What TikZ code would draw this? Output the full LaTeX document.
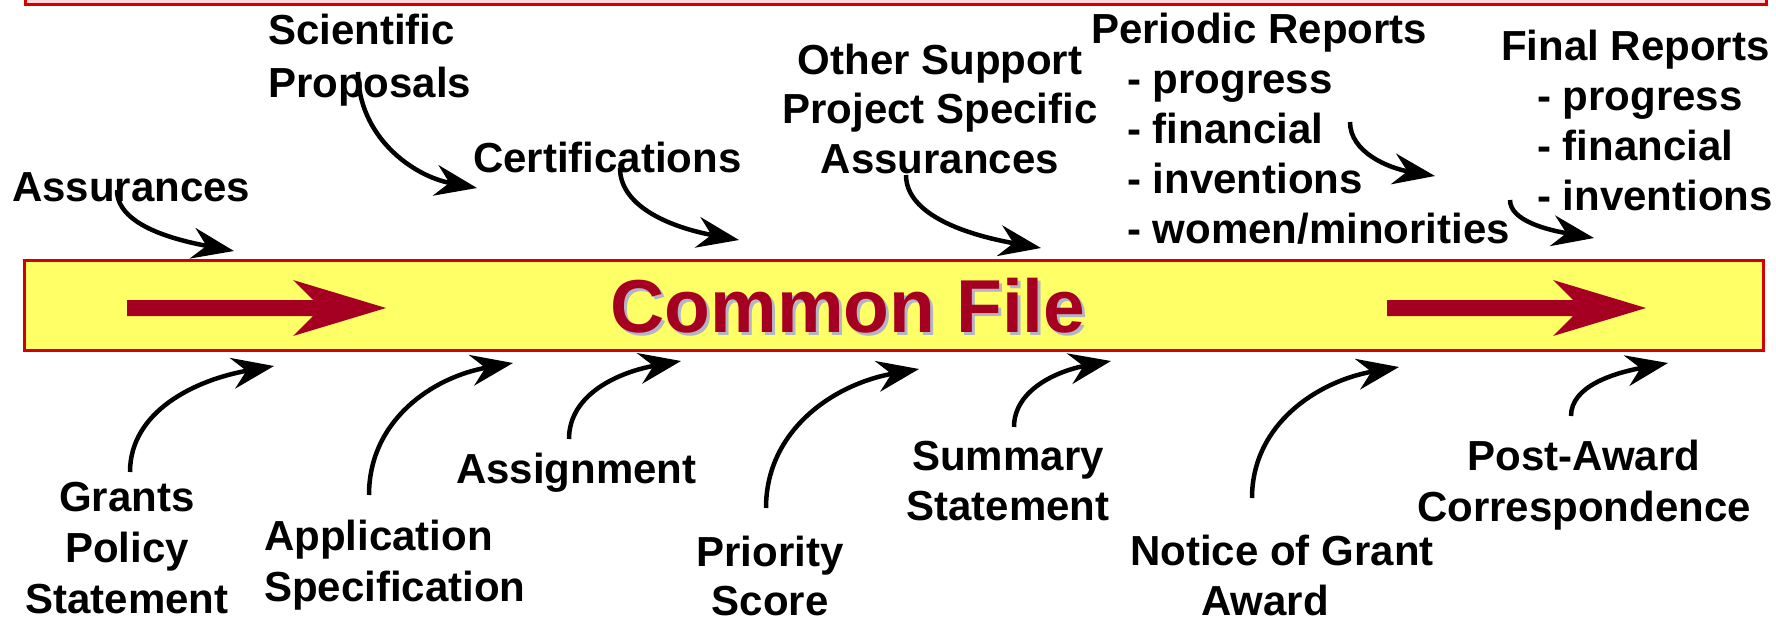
\documentclass[tikz,border=0pt]{standalone}
\usepackage{fontspec}
\setmainfont{Liberation Sans}
\usetikzlibrary{arrows.meta}
\definecolor{bandfill}{HTML}{FFFF66}
\definecolor{bandline}{HTML}{D40000}
\definecolor{stripfill}{HTML}{FFD9D9}
\definecolor{darkred}{HTML}{A50021}
\definecolor{shadowgray}{HTML}{B4B4C4}
\begin{document}
\begin{tikzpicture}[x=1pt,y=-1pt,
  lbl/.style={inner sep=0pt, font=\fontsize{42}{50}\selectfont\bfseries},
  flow/.style={line width=4.5pt, -{Stealth[length=42pt,width=31pt,inset=14pt]}},
  bigarrow/.style={fill=darkred, draw=none},
  titlefont/.style={inner sep=0pt, anchor=base, font=\fontsize{75}{80}\selectfont\bfseries}]
\useasboundingbox (0,0) rectangle (1776,618);

% top strip and band
\node[draw=bandline, fill=stripfill, line width=3pt, inner sep=0pt,
      minimum width=1741pt, minimum height=30pt] (strip) at (896,-10) {};
\node[draw=bandline, fill=bandfill, line width=3pt, inner sep=0pt,
      minimum width=1739pt, minimum height=90pt] (band) at (894,305.5) {};

% big red arrows inside the band
\fill[bigarrow] (127,300) -- (313,300) -- (293,280) -- (386,308) -- (293,336) -- (313,316) -- (127,316) -- cycle;
\fill[bigarrow] (1387,300) -- (1573,300) -- (1553,280) -- (1646,308) -- (1553,336) -- (1573,316) -- (1387,316) -- cycle;

% title with shadow
\node[titlefont, text=shadowgray] (titleshadow) at (851,335) {Common File};
\node[titlefont, text=darkred] (title) at (848,332) {Common File};

% top labels (base anchor = baseline of the last line)
\node[lbl, anchor=base west] (assur) at (12,201) {Assurances};
\node[lbl, anchor=base west, align=left, font=\fontsize{42}{53}\selectfont\bfseries] (sci) at (268,97) {Scientific\\Proposals};
\node[lbl, anchor=base west] (cert) at (473,172) {Certifications};
\node[lbl, anchor=base, align=center, font=\fontsize{42}{49.5}\selectfont\bfseries] (other) at (940,173) {Other Support\\Project Specific\\Assurances};
\node[lbl, anchor=base west, align=left] (per) at (1091,243) {Periodic Reports\\\hspace*{36pt}- progress\\\hspace*{36pt}- financial\\\hspace*{36pt}- inventions\\\hspace*{36pt}- women/minorities};
\node[lbl, anchor=base west, align=left] (fin) at (1501,210) {Final Reports\\\hspace*{36pt}- progress\\\hspace*{36pt}- financial\\\hspace*{36pt}- inventions};

% bottom labels
\node[lbl, anchor=base, align=center, font=\fontsize{42}{51}\selectfont\bfseries] (grants) at (127,613) {Grants\\Policy\\Statement};
\node[lbl, anchor=base west, align=left, font=\fontsize{42}{51}\selectfont\bfseries] (app) at (264,601) {Application\\Specification};
\node[lbl, anchor=base west] (assign) at (456,483) {Assignment};
\node[lbl, anchor=base, align=center, font=\fontsize{42}{49}\selectfont\bfseries] (prio) at (770,615) {Priority\\Score};
\node[lbl, anchor=base, align=center] (summ) at (1008,520) {Summary\\Statement};
\node[lbl, anchor=base, align=center] (notice) at (1282,615) {Notice of Grant\\Award\hspace*{34pt}};
\node[lbl, anchor=base, align=center, font=\fontsize{42}{51}\selectfont\bfseries] (post) at (1584,521) {Post-Award\\Correspondence};

% connector end points
\coordinate (assurS) at (117,190);   \coordinate (assurT) at (234,251);
\coordinate (sciS) at (358,72);      \coordinate (sciT) at (477,188);
\coordinate (certS) at (620,168);    \coordinate (certT) at (739,240);
\coordinate (otherS) at (906,175);   \coordinate (otherT) at (1041,248);
\coordinate (perS) at (1350,122);    \coordinate (perT) at (1435,176);
\coordinate (finS) at (1510,200);    \coordinate (finT) at (1594,238);
\coordinate (grantsS) at (130,472);  \coordinate (grantsT) at (274,366);
\coordinate (appS) at (369,495);     \coordinate (appT) at (513,363);
\coordinate (assignS) at (569,439);  \coordinate (assignT) at (681,361);
\coordinate (prioS) at (766,508);    \coordinate (prioT) at (919,369);
\coordinate (summS) at (1014,427);   \coordinate (summT) at (1111,361);
\coordinate (noticeS) at (1252,498); \coordinate (noticeT) at (1399,367);
\coordinate (postS) at (1571,416);   \coordinate (postT) at (1668,363);

% top connectors (down, then right)
\draw[flow] (assurS) .. controls +(0,34) and +(-64,-12) .. (assurT);
\draw[flow] (sciS) .. controls +(0,64) and +(-65,-12) .. (sciT);
\draw[flow] (certS) .. controls +(0,40) and +(-65,-12) .. (certT);
\draw[flow] (otherS) .. controls +(0,40) and +(-74,-13) .. (otherT);
\draw[flow] (perS) .. controls +(0,30) and +(-47,-8) .. (perT);
\draw[flow] (finS) .. controls +(0,21) and +(-46,-8) .. (finT);

% bottom connectors (up, then right)
\draw[flow] (grantsS) .. controls +(0,-60) and +(-80,14) .. (grantsT);
\draw[flow] (appS) .. controls +(0,-75) and +(-80,14) .. (appT);
\draw[flow] (assignS) .. controls +(0,-45) and +(-62,11) .. (assignT);
\draw[flow] (prioS) .. controls +(0,-78) and +(-85,15) .. (prioT);
\draw[flow] (summS) .. controls +(0,-37) and +(-54,10) .. (summT);
\draw[flow] (noticeS) .. controls +(0,-74) and +(-81,14) .. (noticeT);
\draw[flow] (postS) .. controls +(0,-30) and +(-54,10) .. (postT);
\end{tikzpicture}
\end{document}
